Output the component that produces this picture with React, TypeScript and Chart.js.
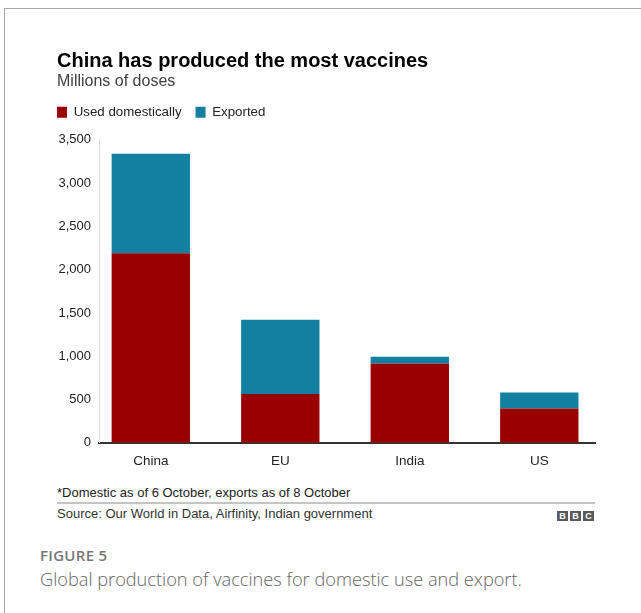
import { useEffect, useRef } from 'react';
import { Chart, registerables } from 'chart.js';

Chart.register(...registerables);

// ---- data ----
const categories = ['China', 'EU', 'India', 'US'];
const usedDomestically = [2190, 565, 915, 395];
const exported = [1150, 855, 80, 185];
const yTickValues = [0, 500, 1000, 1500, 2000, 2500, 3000, 3500];
const seriesLabels = ['Used domestically', 'Exported'];

const RED = '#990000';
const BLUE = '#1380a1';
const SANS = "'Liberation Sans', Arial, Helvetica, sans-serif";
const CAPTION = "'Open Sans', 'Noto Sans', sans-serif";

const legendGap = {
  id: 'legendGap',
  beforeLayout(chart: any) {
    const legend = chart.legend;
    if (legend && !legend.__patched) {
      const fit = legend.fit;
      legend.fit = function () {
        fit.call(this);
        this.height += 11;
      };
      legend.__patched = true;
    }
  },
};

export default function App() {
  const ref = useRef<HTMLCanvasElement>(null);

  useEffect(() => {
    if (!ref.current) return;
    const chart = new Chart(ref.current, {
      type: 'bar',
      data: {
        datasets: [
          {
            label: seriesLabels[0],
            data: categories.map((_, i) => ({ x: i, y: usedDomestically[i] })),
            backgroundColor: RED,
            borderWidth: 0,
            barPercentage: 0.605,
            categoryPercentage: 1,
          },
          {
            label: seriesLabels[1],
            data: categories.map((_, i) => ({ x: i, y: exported[i] })),
            backgroundColor: BLUE,
            borderWidth: 0,
            barPercentage: 0.605,
            categoryPercentage: 1,
          },
        ],
      },
      options: {
        responsive: false,
        animation: false,
        layout: { padding: { left: 43, right: 46, top: 91.5, bottom: 2 } },
        plugins: {
          title: { display: false },
          tooltip: { enabled: false },
          legend: {
            display: true,
            position: 'top',
            align: 'start',
            labels: {
              boxWidth: 10,
              boxHeight: 11,
              padding: 14,
              color: '#222',
              font: { family: SANS, size: 13.3 },
            },
          },
        },
        scales: {
          x: {
            type: 'linear',
            stacked: true,
            offset: false,
            min: -0.4,
            max: 3.43,
            z: 1,
            grid: { display: false, drawTicks: false, offset: false },
            border: { display: true, color: '#333', width: 2 },
            afterBuildTicks: (s: any) => {
              s.ticks = categories.map((_, i) => ({ value: i }));
            },
            ticks: {
              autoSkip: false,
              maxRotation: 0,
              includeBounds: false,
              padding: 10.5,
              color: '#222',
              font: { family: SANS, size: 13.5 },
              callback: (_v: any, i: number) => categories[i],
            },
          },
          y: {
            type: 'linear',
            stacked: true,
            min: yTickValues[0],
            max: yTickValues[yTickValues.length - 1],
            grid: { display: false, drawTicks: false },
            border: { display: true, color: '#dcdcdc', width: 1 },
            afterBuildTicks: (s: any) => {
              s.ticks = yTickValues.map((v) => ({ value: v }));
            },
            afterFit: (s: any) => {
              s.width = 56;
            },
            ticks: {
              padding: 8,
              color: '#222',
              font: { family: SANS, size: 13 },
              callback: (v: any) => Number(v).toLocaleString('en-US'),
            },
          },
        },
      },
      plugins: [legendGap],
    });
    return () => chart.destroy();
  }, []);

  const bbcBox = (ch: string, left: number) => (
    <div
      style={{
        position: 'absolute',
        left,
        top: 511,
        width: 11,
        height: 10,
        background: '#5a5a5a',
        color: '#fff',
        fontFamily: SANS,
        fontWeight: 'bold',
        fontSize: 9,
        lineHeight: '10px',
        textAlign: 'center',
      }}
    >
      {ch}
    </div>
  );

  return (
    <div
      style={{
        position: 'fixed',
        left: 0,
        top: 0,
        width: 641,
        height: 613,
        background: '#fff',
        overflow: 'hidden',
        fontFamily: SANS,
      }}
    >
      <div
        style={{
          position: 'absolute',
          left: 4,
          top: 8,
          width: 700,
          height: 700,
          borderTop: '1px solid #a8a8a8',
          borderLeft: '1px solid #a8a8a8',
        }}
      />
      <canvas
        ref={ref}
        width={641}
        height={482}
        style={{ position: 'absolute', left: 0, top: 0, width: 641, height: 482 }}
      />
      <div
        style={{
          position: 'absolute',
          left: 57,
          top: 47.5,
          fontSize: 20,
          fontWeight: 'bold',
          lineHeight: '24px',
          color: '#000',
          whiteSpace: 'nowrap',
        }}
      >
        China has produced the most vaccines
      </div>
      <div
        style={{
          position: 'absolute',
          left: 57,
          top: 71,
          fontSize: 16,
          lineHeight: '20px',
          color: '#404040',
          whiteSpace: 'nowrap',
        }}
      >
        Millions of doses
      </div>
      <div
        style={{
          position: 'absolute',
          left: 57,
          top: 484.5,
          fontSize: 13,
          lineHeight: '16px',
          color: '#222',
          whiteSpace: 'nowrap',
        }}
      >
        *Domestic as of 6 October, exports as of 8 October
      </div>
      <div
        style={{
          position: 'absolute',
          left: 57,
          top: 502,
          width: 538,
          height: 2,
          background: '#c4c4c4',
        }}
      />
      <div
        style={{
          position: 'absolute',
          left: 57,
          top: 506,
          fontSize: 13,
          lineHeight: '16px',
          color: '#333',
          whiteSpace: 'nowrap',
        }}
      >
        Source: Our World in Data, Airfinity, Indian government
      </div>
      {bbcBox('B', 557)}
      {bbcBox('B', 570)}
      {bbcBox('C', 583)}
      <div
        style={{
          position: 'absolute',
          left: 40,
          top: 546,
          fontFamily: CAPTION,
          fontSize: 15,
          fontWeight: 600,
          lineHeight: '18px',
          letterSpacing: 0.3,
          color: '#777',
          whiteSpace: 'nowrap',
        }}
      >
        FIGURE 5
      </div>
      <div
        style={{
          position: 'absolute',
          left: 40,
          top: 567,
          fontFamily: CAPTION,
          fontSize: 18.2,
          fontWeight: 300,
          lineHeight: '24px',
          color: '#666',
          whiteSpace: 'nowrap',
        }}
      >
        Global production of vaccines for domestic use and export.
      </div>
    </div>
  );
}
